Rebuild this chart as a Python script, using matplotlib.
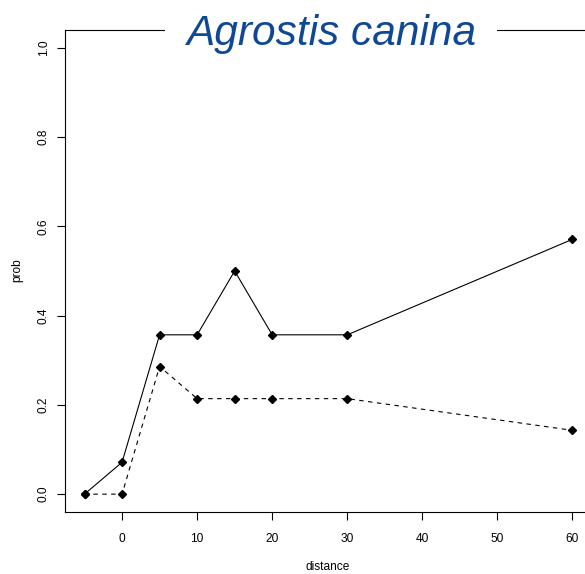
import matplotlib
matplotlib.use("Agg")
import matplotlib.pyplot as plt

distance = [-5, 0, 5, 10, 15, 20, 30, 60]
prob_solid = [0.0, 0.0714, 0.357, 0.357, 0.5, 0.357, 0.357, 0.571]
prob_dashed = [0.0, 0.0, 0.286, 0.214, 0.214, 0.214, 0.214, 0.143]
xticks = [0, 10, 20, 30, 40, 50, 60]
yticks = [0.0, 0.2, 0.4, 0.6, 0.8, 1.0]
title = "Agrostis canina"

plt.rcParams['font.family'] = ['Liberation Sans', 'DejaVu Sans']

W, H = 585, 574
fig = plt.figure(figsize=(W / 100, H / 100), dpi=100)
L, R, B, T = 65, 592, 512, 30
ax = fig.add_axes([L / W, (H - B) / H, (R - L) / W, (B - T) / H])

ax.plot(distance, prob_solid, color='black', lw=0.8, marker='D', ms=3.8)
ax.plot(distance, prob_dashed, color='black', lw=0.8, marker='D', ms=3.8,
        linestyle=(0, (4, 4)))

ax.set_xlim(-7.6, 62.6)
ax.set_ylim(-0.04, 1.04)
ax.set_xticks(xticks)
ax.set_xticklabels([str(v) for v in xticks])
ax.set_yticks(yticks)
ax.set_yticklabels([f"{v:.1f}" for v in yticks], rotation=90, va='center')
ax.spines['right'].set_visible(False)
for s in ['left', 'bottom', 'top']:
    ax.spines[s].set_linewidth(0.8)
ax.tick_params(axis='x', length=5.5, width=0.8, pad=9.5, labelsize=8.6)
ax.tick_params(axis='y', length=5.5, width=0.8, pad=5.5, labelsize=8.6)

fig.text(17 / W, 1 - 270 / H, "prob", rotation=90, ha='center', va='center', fontsize=8.6)
fig.text(328 / W, 1 - 567 / H, "distance", ha='center', va='center', fontsize=8.6)

fig.text(331 / W, 1 - 34 / H, title, ha='center', va='center', fontsize=30.5,
         style='italic', color='#0f4895',
         bbox=dict(facecolor='white', edgecolor='none', pad=15), zorder=5)

fig.savefig("out.png", dpi=100)
